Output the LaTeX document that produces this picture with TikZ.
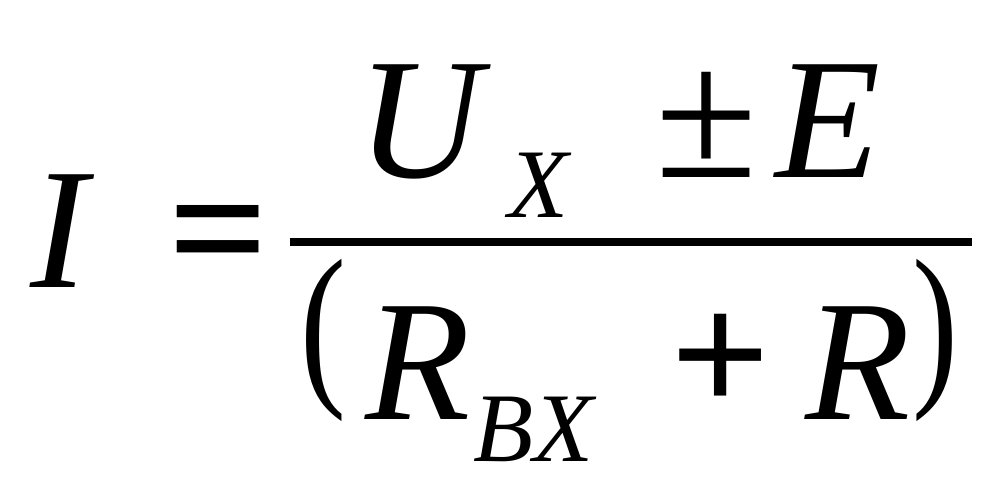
\documentclass[tikz,border=0pt]{standalone}
\usepackage{fontspec}
\setmainfont{Liberation Serif}
\tikzset{
  big/.style={inner sep=0pt,anchor=base west,font=\fontsize{49}{49}\selectfont\itshape},
  sub/.style={inner sep=0pt,anchor=base west,font=\fontsize{28}{28}\selectfont\itshape},
  sym/.style={inner sep=0pt,anchor=base west,font=\fontsize{49}{49}\selectfont},
  bsym/.style={inner sep=0pt,anchor=base west,font=\fontsize{50}{50}\selectfont\bfseries}
}
\begin{document}
\begin{tikzpicture}
  \useasboundingbox (0,0) rectangle (10,5);
  \node[big] (I) at (0.30,2.12) {I};
  \node[bsym] (eq) at (1.68,2.12) {=};
  % numerator
  \node[big] (U) at (3.57,3.22) {U};
  \node[sub] (X) at (5.08,2.82) {X};
  \node[sym,font=\fontsize{53}{53}\selectfont] (pm) at (6.55,3.22) {±};
  \node[big] (E) at (7.75,3.22) {E};
  \draw[line width=0.8mm] (2.90,2.58) -- (9.72,2.58);
  % denominator
  \node[sym] (lp) at (3.00,1.16) {\scalebox{0.8}[1.04]{(}};
  \node[big] (R1) at (3.65,0.80) {R};
  \node[sub] (BX) at (4.73,0.38) {BX};
  \node[bsym] (pl) at (6.70,0.86) {+};
  \node[big] (R2) at (8.05,0.80) {R};
  \node[sym] (rp) at (9.12,1.16) {\scalebox{0.8}[1.04]{)}};
\end{tikzpicture}
\end{document}
